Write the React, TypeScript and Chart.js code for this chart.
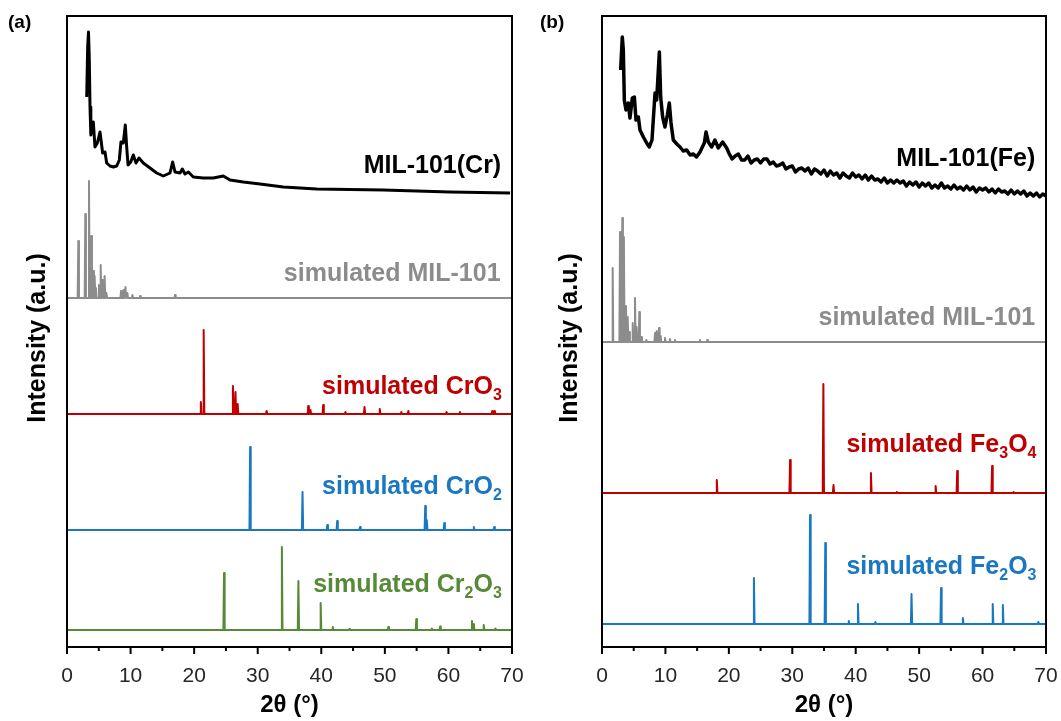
import React, { useEffect, useRef } from "react";
import { Chart, registerables } from "chart.js";

Chart.register(...registerables);

const FONT = '"Liberation Sans", Arial, Helvetica, sans-serif';
Chart.defaults.font.family = FONT;

// ---------------- axis ----------------
const X_MIN = 0;
const X_MAX = 70;
const X_STEP = 10;
const Y_MAX = 631;

// ---------------- Panel (a) ----------------
// experimental MIL-101(Cr)
const crExpAngle = [3.1, 3.25, 3.38, 3.5, 3.62, 3.75, 3.95, 4.14, 4.4, 4.77, 5.19, 5.61, 5.98, 6.24, 6.76, 7.3, 7.82, 8.23, 8.49, 8.86, 9.17, 9.39, 9.6, 10.02, 10.43, 10.85, 11.33, 12.0, 13.06, 14.1, 15.15, 16.2, 16.62, 16.99, 17.78, 18.14, 18.56, 19.09, 19.87, 21.44, 23.02, 24.59, 25.64, 27.73, 30.36, 34.03, 39.28, 44.5, 49.76, 55.0, 60.25, 65.0, 69.7];
const crExpIntensity = [550, 600, 615, 590, 540, 512, 520, 525, 500, 504, 515, 494, 495, 484, 481, 480, 481, 487, 505, 504, 522, 500, 482, 485, 492, 484, 489, 484, 479, 474, 471, 474, 485, 475, 474, 478, 473, 475, 470, 469, 469, 471, 467, 465, 463, 460, 458, 457.5, 457, 456, 455, 454.5, 454];

// simulated MIL-101 (a)
const milSimAPos = [1.78, 2.88, 3.46, 3.83, 4.14, 4.35, 4.55, 5.03, 5.3, 5.56, 5.92, 6.2, 8.5, 8.9, 9.2, 9.5, 10.3, 11.5, 17.0];
const milSimAInt = [57, 84, 117, 62, 27, 22, 10, 13, 33, 18, 22, 5, 7, 8, 11, 5, 3, 2, 3];

// simulated CrO3
const cro3Pos = [21.05, 21.5, 26.1, 26.5, 26.85, 31.4, 37.95, 38.3, 40.3, 43.8, 46.8, 49.2, 52.6, 53.7, 59.7, 61.8, 66.9, 67.3];
const cro3Int = [12, 84, 28, 22, 10, 3, 8, 4, 9, 2, 7, 5, 2, 3, 2, 2, 3, 3];

// simulated CrO2
const cro2Pos = [28.8, 37.05, 40.95, 42.5, 46.1, 56.35, 56.6, 59.35, 64.0, 67.2];
const cro2Int = [83, 38, 5, 9, 3, 24, 10, 7, 3, 3];

// simulated Cr2O3
const cr2o3Pos = [24.7, 33.8, 36.4, 39.9, 41.8, 44.4, 50.55, 54.95, 57.4, 58.7, 63.7, 64.0, 65.55, 67.4];
const cr2o3Int = [57, 83, 49, 27, 3, 1, 3, 11, 1.5, 3.5, 9, 6, 5, 1.5];

// vertical stacking offsets (a): MIL sim, CrO3, CrO2, Cr2O3
const offsetsA = [349, 233, 117, 17];

// ---------------- Panel (b) ----------------
const feExpAngle = [2.94, 3.2, 3.36, 3.52, 3.78, 4.15, 4.41, 4.78, 5.1, 5.36, 5.73, 5.99, 6.52, 7.04, 7.46, 7.88, 8.36, 8.62, 9.04, 9.25, 9.56, 9.93, 10.3, 10.61, 10.88, 11.24, 11.8, 12.3, 12.8, 13.35, 13.9, 14.4, 14.9, 15.45, 16.13, 16.4, 16.76, 17.29, 17.8, 18.34, 19.02, 19.66,
  20.0, 20.5, 21.0, 21.5, 22.0, 22.5, 23.0, 23.5, 24.0, 24.5, 25.0, 25.5, 26.0, 26.5, 27.0, 27.5, 28.0, 28.5, 29.0, 29.5,
  30.0, 30.5, 31.0, 31.5, 32.0, 32.5, 33.0, 33.5, 34.0, 34.5, 35.0, 35.5, 36.0, 36.5, 37.0, 37.5, 38.0, 38.5, 39.0, 39.5,
  40.0, 40.5, 41.0, 41.5, 42.0, 42.5, 43.0, 43.5, 44.0, 44.5, 45.0, 45.5, 46.0, 46.5, 47.0, 47.5, 48.0, 48.5, 49.0, 49.5,
  50.0, 50.5, 51.0, 51.5, 52.0, 52.5, 53.0, 53.5, 54.0, 54.5, 55.0, 55.5, 56.0, 56.5, 57.0, 57.5, 58.0, 58.5, 59.0, 59.5,
  60.0, 60.5, 61.0, 61.5, 62.0, 62.5, 63.0, 63.5, 64.0, 64.5, 65.0, 65.5, 66.0, 66.5, 67.0, 67.5, 68.0, 68.5, 69.0, 69.5, 70.0];
const feExpIntensity = [577, 610, 597, 547, 537, 544, 529, 549, 550, 527, 530, 517, 510, 504, 500, 507, 554, 547, 595, 550, 530, 520, 532, 544, 524, 507, 503, 500, 496, 497, 492, 493, 490, 495, 504, 515, 505, 500, 507, 499, 505, 499,
  494, 488, 491, 493, 487, 487, 491, 484, 487, 488, 484, 488, 488, 483, 485, 481, 482, 484, 478, 480,
  481, 475, 478, 479, 476, 479, 473, 478, 476, 473, 477, 471, 476, 472, 474, 469, 474, 471, 469, 474,
  470, 472, 468, 472, 467, 471, 467, 468, 465, 469, 464, 467, 464, 467, 464, 466, 461, 465, 462, 465,
  460, 464, 461, 464, 459, 462, 459, 464, 459, 461, 458, 462, 458, 460, 457, 461, 457, 460, 455, 459,
  457, 459, 455, 458, 454, 458, 455, 456, 453, 457, 453, 456, 453, 456, 451, 454, 451, 454, 450, 453, 451];

// simulated MIL-101 (b)
const milSimBPos = [1.68, 2.84, 3.2, 3.45, 3.78, 4.05, 4.3, 4.84, 5.2, 5.45, 5.88, 6.2, 7.0, 8.36, 8.62, 8.99, 9.25, 9.93, 10.7, 11.5, 15.45, 16.6];
const milSimBInt = [74, 110, 124, 105, 36, 25, 10, 19, 44, 15, 30, 5, 2, 9, 11, 14, 6, 4, 3, 2, 2, 2];

// simulated Fe3O4
const fe3o4Pos = [18.1, 29.65, 34.9, 36.5, 42.4, 46.5, 52.6, 56.0, 61.5, 64.9];
const fe3o4Int = [13, 33, 109, 8, 20, 1, 7, 22, 27, 1];

// simulated Fe2O3
const fe2o3Pos = [23.95, 32.8, 35.2, 38.9, 40.35, 43.1, 48.8, 53.45, 56.9, 61.6, 63.2, 68.8];
const fe2o3Int = [46, 109, 81, 3, 20, 2, 30, 36, 6, 20, 19, 2];

// vertical stacking offsets (b): MIL sim, Fe3O4, Fe2O3
const offsetsB = [305, 154, 23];

// ---------------- colours ----------------
const BLACK = "#000000";
const GRAY = "#8c8c8c";
const RED = "#c00000";
const BLUE = "#1a78c2";
const GREEN = "#578a37";

// ---------------- helpers ----------------
function stickPattern(pos: number[], h: number[], offset: number, w = 0.1) {
  const set = new Set<number>([X_MIN, X_MAX]);
  pos.forEach((p) => {
    set.add(+(p - w).toFixed(3));
    set.add(p);
    set.add(+(p + w).toFixed(3));
  });
  const xs = Array.from(set).sort((a, b) => a - b);
  return xs.map((x) => {
    let y = 0;
    pos.forEach((p, i) => {
      const d = Math.abs(x - p);
      if (d < w) y += h[i] * (1 - d / w);
    });
    return { x, y: y + offset };
  });
}

function curve(a: number[], v: number[]) {
  return a.map((x, i) => ({ x, y: v[i] }));
}

function ds(data: { x: number; y: number }[], color: string, width: number) {
  return {
    data,
    borderColor: color,
    backgroundColor: color,
    borderWidth: width,
    pointRadius: 0,
    fill: false,
    tension: 0,
    borderJoinStyle: "round" as const,
    spanGaps: true,
  };
}

interface TextPart {
  t: string;
  sub?: boolean;
}
interface TraceLabel {
  parts: TextPart[];
  x: number;
  y: number;
  color: string;
}

const annotatePlugin = {
  id: "xrdAnnotate",
  afterDraw(chart: any, _args: any, opts: any) {
    const { ctx, chartArea: ca, scales } = chart;
    const xs = scales.x;
    const ys = scales.y;
    ctx.save();
    // frame
    ctx.strokeStyle = "#000";
    ctx.lineWidth = 2;
    ctx.strokeRect(ca.left, ca.top, ca.right - ca.left, ca.bottom - ca.top);
    // ticks (major + minor)
    for (let v = X_MIN; v <= X_MAX; v += X_STEP / 2) {
      const px = xs.getPixelForValue(v);
      const len = v % X_STEP === 0 ? 7 : 4;
      ctx.beginPath();
      ctx.moveTo(px, ca.bottom);
      ctx.lineTo(px, ca.bottom + len);
      ctx.stroke();
    }
    // trace labels
    ctx.textBaseline = "alphabetic";
    ctx.textAlign = "left";
    const mainSize = 25;
    const subSize = 16;
    (opts.labels as TraceLabel[]).forEach((l) => {
      let total = 0;
      const widths = l.parts.map((p) => {
        ctx.font = `bold ${p.sub ? subSize : mainSize}px ${FONT}`;
        const w = ctx.measureText(p.t).width;
        total += w;
        return w;
      });
      let x = xs.getPixelForValue(l.x) - total;
      const y = ys.getPixelForValue(l.y);
      ctx.fillStyle = l.color;
      l.parts.forEach((p, i) => {
        ctx.font = `bold ${p.sub ? subSize : mainSize}px ${FONT}`;
        ctx.fillText(p.t, x, p.sub ? y + 6 : y);
        x += widths[i];
      });
    });
    // panel letter
    ctx.fillStyle = "#000";
    ctx.font = `bold 19px ${FONT}`;
    ctx.fillText(opts.panel, opts.panelX, 28);
    // y title
    ctx.save();
    ctx.translate(opts.yTitleX, opts.yTitleY);
    ctx.rotate(-Math.PI / 2);
    ctx.textAlign = "center";
    ctx.textBaseline = "middle";
    ctx.font = `bold 25px ${FONT}`;
    ctx.fillText("Intensity (a.u.)", 0, 0);
    ctx.restore();
    ctx.restore();
  },
};

function makeChart(
  canvas: HTMLCanvasElement,
  datasets: any[],
  labels: TraceLabel[],
  pad: { left: number; right: number },
  panel: string,
  panelX: number,
  yTitleX: number
) {
  return new Chart(canvas, {
    type: "line",
    data: { datasets },
    plugins: [annotatePlugin],
    options: {
      responsive: false,
      animation: false,
      events: [],
      layout: { padding: { left: pad.left, right: pad.right, top: 16, bottom: 0 } },
      plugins: {
        legend: { display: false },
        tooltip: { enabled: false },
        xrdAnnotate: { labels, panel, panelX, yTitleX, yTitleY: 338 },
      } as any,
      scales: {
        x: {
          type: "linear",
          min: X_MIN,
          max: X_MAX,
          grid: { display: false },
          border: { display: false },
          ticks: {
            stepSize: X_STEP,
            padding: 9,
            color: "#262626",
            font: { size: 21 },
            maxRotation: 0,
          },
          title: {
            display: true,
            text: "2θ (°)",
            color: "#000",
            font: { size: 24, weight: "bold" },
            padding: { top: 0, bottom: 1 },
          },
          afterFit: (s: any) => {
            s.height = 74;
            s.paddingLeft = 0;
            s.paddingRight = 0;
          },
        },
        y: { display: false, min: 0, max: Y_MAX },
      },
    } as any,
  });
}

export default function App() {
  const refA = useRef<HTMLCanvasElement>(null);
  const refB = useRef<HTMLCanvasElement>(null);

  useEffect(() => {
    const dsA = [
      ds(stickPattern(cr2o3Pos, cr2o3Int, offsetsA[3]), GREEN, 2),
      ds(stickPattern(cro2Pos, cro2Int, offsetsA[2]), BLUE, 2),
      ds(stickPattern(cro3Pos, cro3Int, offsetsA[1]), RED, 2),
      ds(stickPattern(milSimAPos, milSimAInt, offsetsA[0]), GRAY, 2),
      ds(curve(crExpAngle, crExpIntensity), BLACK, 3),
    ];
    const labelsA: TraceLabel[] = [
      { parts: [{ t: "MIL-101(Cr)" }], x: 68.3, y: 474, color: BLACK },
      { parts: [{ t: "simulated MIL-101" }], x: 68.2, y: 366, color: GRAY },
      { parts: [{ t: "simulated CrO" }, { t: "3", sub: true }], x: 68.4, y: 253, color: RED },
      { parts: [{ t: "simulated CrO" }, { t: "2", sub: true }], x: 68.4, y: 153, color: BLUE },
      { parts: [{ t: "simulated Cr" }, { t: "2", sub: true }, { t: "O" }, { t: "3", sub: true }], x: 68.4, y: 55, color: GREEN },
    ];
    const dsB = [
      ds(stickPattern(fe2o3Pos, fe2o3Int, offsetsB[2]), BLUE, 2),
      ds(stickPattern(fe3o4Pos, fe3o4Int, offsetsB[1]), RED, 2),
      ds(stickPattern(milSimBPos, milSimBInt, offsetsB[0]), GRAY, 2),
      ds(curve(feExpAngle, feExpIntensity), BLACK, 3.5),
    ];
    const labelsB: TraceLabel[] = [
      { parts: [{ t: "MIL-101(Fe)" }], x: 68.3, y: 481, color: BLACK },
      { parts: [{ t: "simulated MIL-101" }], x: 68.3, y: 322, color: GRAY },
      { parts: [{ t: "simulated Fe" }, { t: "3", sub: true }, { t: "O" }, { t: "4", sub: true }], x: 68.5, y: 195, color: RED },
      { parts: [{ t: "simulated Fe" }, { t: "2", sub: true }, { t: "O" }, { t: "3", sub: true }], x: 68.5, y: 73, color: BLUE },
    ];
    const a = makeChart(refA.current!, dsA, labelsA, { left: 67, right: 28 }, "(a)", 8, 38);
    const b = makeChart(refB.current!, dsB, labelsB, { left: 67, right: 15 }, "(b)", 5, 35);
    return () => {
      a.destroy();
      b.destroy();
    };
  }, []);

  return (
    <div style={{ position: "fixed", left: 0, top: 0, width: 1061, height: 721, background: "#fff", overflow: "hidden" }}>
      <canvas ref={refA} width={540} height={721} style={{ position: "absolute", left: 0, top: 0, width: 540, height: 721 }} />
      <canvas ref={refB} width={526} height={721} style={{ position: "absolute", left: 535, top: 0, width: 526, height: 721 }} />
    </div>
  );
}
